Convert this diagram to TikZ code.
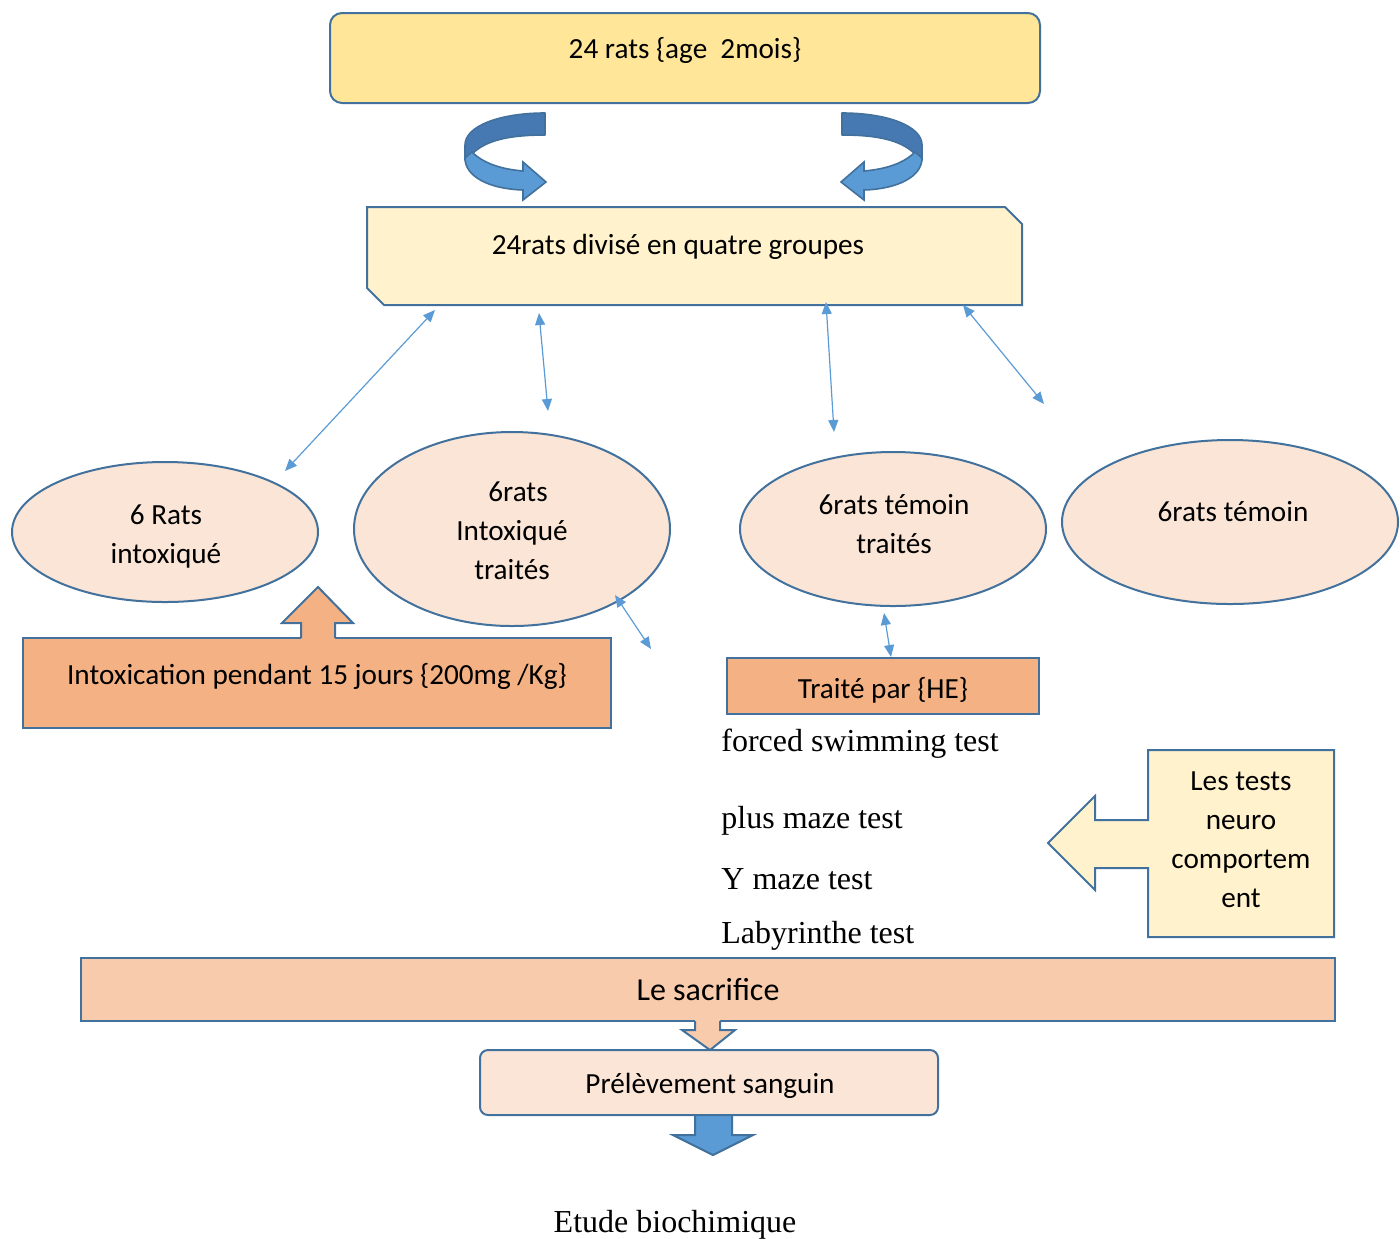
\documentclass[tikz,border=0pt]{standalone}
\usepackage{fontspec}
\setmainfont{Carlito}
\newfontfamily\seriffont{Liberation Serif}
\usetikzlibrary{arrows.meta,shapes.geometric}
\definecolor{bord}{HTML}{41719C}
\definecolor{yel}{HTML}{FFE699}
\definecolor{cream}{HTML}{FFF2CC}
\definecolor{peach}{HTML}{FBE5D6}
\definecolor{orng}{HTML}{F4B183}
\definecolor{orngb}{HTML}{F8CBAD}
\definecolor{lblue}{HTML}{5B9BD5}
\definecolor{dblue}{HTML}{4678B2}
\tikzset{
  cal/.style={font=\fontsize{14.6}{19.5}\selectfont, align=center, inner sep=0pt},
  ser/.style={font=\seriffont\fontsize{16}{19}\selectfont, inner sep=0pt},
  boxbase/.style={draw=bord, line width=1pt, inner sep=0pt},
  ell/.style={boxbase, ellipse, fill=peach, cal},
  thin/.style={draw=lblue, line width=0.6pt, {Triangle[length=6pt,width=5pt]}-{Triangle[length=6pt,width=5pt]}},
  blk/.style={draw=bord, line width=1pt, line join=miter},
}
\begin{document}
\begin{tikzpicture}[x=0.5pt,y=-0.5pt]
\useasboundingbox (0,0) rectangle (1400,1238);

% top box
\node[boxbase, rounded corners=6pt, fill=yel, minimum width=355pt, minimum height=45pt] (top) at (685,58) {};
\node[cal] (toptxt) at (685,50) {24 rats \{age\ \ 2mois\}};

% U-turn arrows
\foreach \sx/\sc in {545/1,842/-1}{
\begin{scope}[shift={(\sx,0)}, xscale=\sc]
  \filldraw[fill=dblue, draw=bord, line width=0.8pt, line join=round]
    (0,113) .. controls (-45,113) and (-80,126) .. (-80,145) -- (-80,160) -- (-72,153)
    .. controls (-58,140) and (-35,135) .. (0,135) -- cycle;
  \filldraw[fill=lblue, draw=bord, line width=0.8pt, line join=miter]
    (-73,152) .. controls (-62,163) and (-45,169) .. (-22,171) -- (-22,162) -- (1,182)
    -- (-22,200) -- (-22,190) .. controls (-55,189) and (-80,177) .. (-80,158) -- cycle;
\end{scope}
}

% second box (snipped corners)
\node[minimum width=327.5pt, minimum height=49pt, inner sep=0pt] (grp) at (694.5,256) {};
\filldraw[fill=cream, blk] (367,207) -- (1005,207) -- (1022,224) -- (1022,305) -- (384,305) -- (367,288) -- cycle;
\node[cal] (grptxt) at (678,247) {24rats divisé en quatre groupes};

% ellipses
\node[ell, minimum width=153pt, minimum height=70pt] (e1) at (165,532) {};
\node[cal] (e1txt) at (166,536) {6 Rats\\intoxiqué};
\node[ell, minimum width=158pt, minimum height=97pt] (e2) at (512,529) {};
\node[cal] (e2txt) at (512,531) {\hspace*{6pt}6rats\\Intoxiqué\\traités};
\node[ell, minimum width=153pt, minimum height=77pt] (e3) at (893,529) {};
\node[cal] (e3txt) at (894,524) {6rats témoin\\traités};
\node[ell, minimum width=168pt, minimum height=82pt] (e4) at (1230,522) {};
\node[cal] (e4txt) at (1233,512) {6rats témoin};

% thin double arrows
\coordinate (a1s) at (435,310); \coordinate (a1e) at (285,471);
\coordinate (a2s) at (539,313); \coordinate (a2e) at (548,411);
\coordinate (a3s) at (826,302); \coordinate (a3e) at (834,432);
\coordinate (a4s) at (963,305); \coordinate (a4e) at (1044,404);
\coordinate (a5s) at (615,595); \coordinate (a5e) at (651,649);
\coordinate (a6s) at (884,613); \coordinate (a6e) at (891,657);
\foreach \i in {1,...,6}{\draw[thin] (a\i s) -- (a\i e);}

% intoxication box + up arrow
\node[boxbase, fill=orng, minimum width=294pt, minimum height=45pt] (intox) at (317,683) {};
\fill[orng] (301,641) -- (301,623) -- (282,623) -- (318,587) -- (353,623) -- (335,623) -- (335,641) -- cycle;
\draw[blk] (301,638) -- (301,623) -- (282,623) -- (318,587) -- (353,623) -- (335,623) -- (335,638);
\node[cal] (intoxtxt) at (317,676) {Intoxication pendant 15 jours \{200mg /Kg\}};

% traite box
\node[boxbase, fill=orng, minimum width=156pt, minimum height=28pt] (he) at (883,686) {};
\node[cal] (hetxt) at (883,690) {Traité par \{HE\}};

% serif texts
\node[ser, anchor=west] (t1) at (721,744) {forced swimming test};
\node[ser, anchor=west] (t2) at (721,821) {plus maze test};
\node[ser, anchor=west] (t3) at (721,879) {Y\ maze test};
\node[ser, anchor=west] (t4) at (721,936) {Labyrinthe test};

% tests callout
\filldraw[fill=cream, blk] (1148,750) -- (1334,750) -- (1334,937) -- (1148,937) -- (1148,868) -- (1095,868) -- (1095,890) -- (1048,843) -- (1095,796) -- (1095,820) -- (1148,820) -- cycle;
\node[cal] (tests) at (1241,840) {Les tests\\neuro\\comportem\\ent};

% sacrifice
\node[boxbase, fill=orngb, minimum width=627pt, minimum height=31.5pt, cal, font=\fontsize{16}{19}\selectfont] (sac) at (708,989.5) {Le sacrifice};
\fill[orngb] (695,1020) -- (695,1030) -- (682,1030) -- (710,1050) -- (735,1030) -- (720,1030) -- (720,1020) -- cycle;
\draw[blk] (695,1021) -- (695,1030) -- (682,1030) -- (710,1050) -- (735,1030) -- (720,1030) -- (720,1021);

% prelevement
\node[boxbase, rounded corners=4pt, fill=peach, minimum width=229pt, minimum height=32.5pt] (prel) at (709,1082.5) {};
\node[cal] (preltxt) at (710,1086) {Prélèvement sanguin};
\filldraw[fill=lblue, blk] (695,1115) -- (695,1135) -- (673,1135) -- (713,1155) -- (753,1135) -- (732,1135) -- (732,1115) -- cycle;

\node[ser] (bio) at (675,1225) {Etude biochimique};
\end{tikzpicture}
\end{document}
